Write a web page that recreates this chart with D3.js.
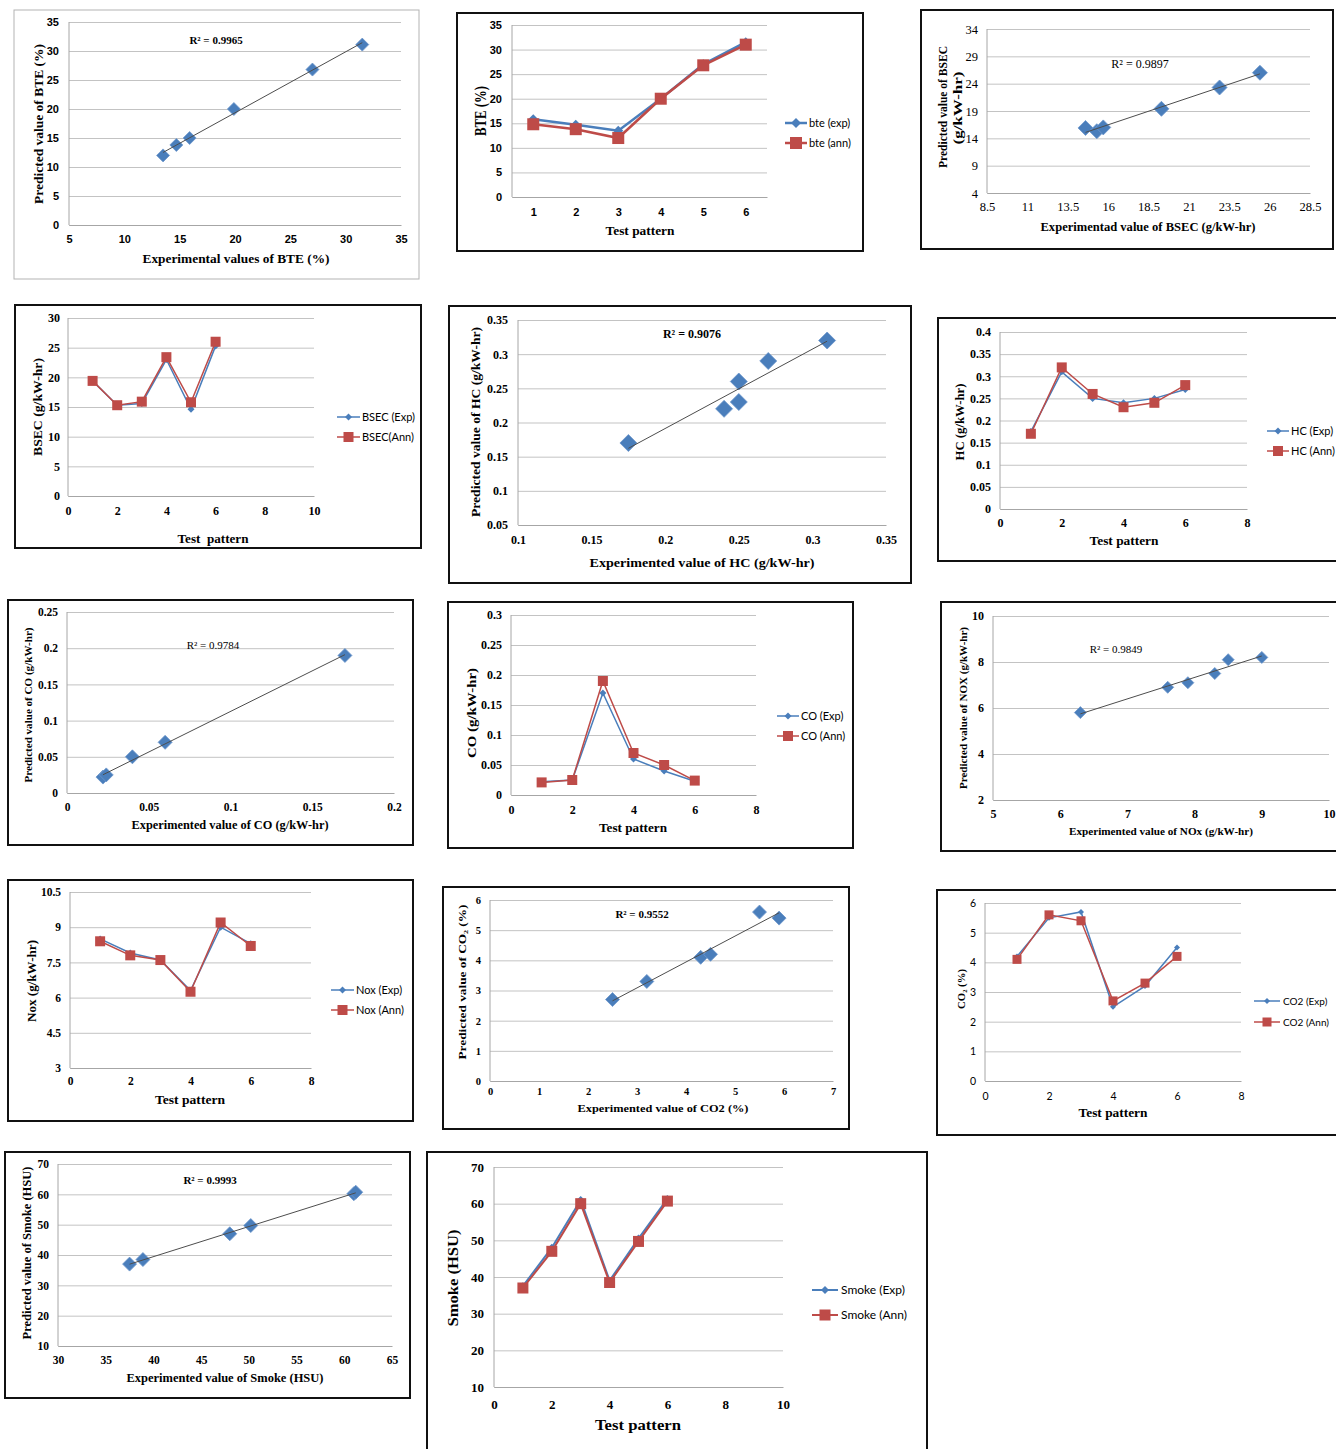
<!DOCTYPE html>
<html>
<head>
<meta charset="utf-8">
<script src="https://cdn.jsdelivr.net/npm/d3@7"></script>
<style>
  body { margin: 0; background: #fff; }
  svg { display: block; }
</style>
</head>
<body>
<svg id="fig" width="1336" height="1449"></svg>
<script>
// ---- data ----
const pattern = [1, 2, 3, 4, 5, 6];

// BTE (%)
const bteScatterX = [13.5, 14.7, 15.9, 19.9, 27, 31.5];
const bteScatterY = [12, 13.8, 15, 20, 26.8, 31.1];
const bteExp = [15.8, 14.7, 13.5, 20, 27, 31.5];
const bteAnn = [14.8, 13.8, 12, 20, 26.8, 31];

// BSEC (g/kW-hr)
const bsecScatterX = [14.6, 15.3, 15.7, 19.3, 22.9, 25.4];
const bsecScatterY = [15.9, 15.3, 16.0, 19.4, 23.3, 26];
const bsecExp = [19.4, 15.3, 15.6, 23, 14.6, 25.3];
const bsecAnn = [19.4, 15.3, 15.9, 23.4, 15.8, 26];

// HC (g/kW-hr)
const hcScatterX = [0.175, 0.24, 0.25, 0.25, 0.27, 0.31];
const hcScatterY = [0.17, 0.22, 0.26, 0.23, 0.29, 0.32];
const hcExp = [0.175, 0.31, 0.25, 0.24, 0.25, 0.27];
const hcAnn = [0.17, 0.32, 0.26, 0.23, 0.24, 0.28];

// CO (g/kW-hr)
const coScatterX = [0.022, 0.024, 0.04, 0.06, 0.17];
const coScatterY = [0.022, 0.025, 0.05, 0.07, 0.19];
const coExp = [0.022, 0.025, 0.17, 0.06, 0.04, 0.023];
const coAnn = [0.021, 0.025, 0.19, 0.07, 0.05, 0.024];

// NOx (g/kW-hr)
const noxScatterX = [6.3, 7.6, 7.9, 8.3, 8.5, 9];
const noxScatterY = [5.8, 6.9, 7.1, 7.5, 8.1, 8.2];
const noxExp = [8.5, 7.9, 7.6, 6.3, 9.0, 8.3];
const noxAnn = [8.4, 7.8, 7.6, 6.25, 9.2, 8.2];

// CO2 (%)
const co2ScatterX = [2.5, 3.2, 4.3, 4.5, 5.5, 5.9];
const co2ScatterY = [2.7, 3.3, 4.1, 4.2, 5.6, 5.4];
const co2Exp = [4.2, 5.5, 5.7, 2.5, 3.2, 4.5];
const co2Ann = [4.1, 5.6, 5.4, 2.7, 3.3, 4.2];

// Smoke (HSU)
const smokeScatterX = [37.5, 38.9, 48, 50.2, 61, 61.2];
const smokeScatterY = [37, 38.5, 47, 49.7, 60.2, 60.7];
const smokeExp = [37.5, 48, 61, 39, 50.5, 61.3];
const smokeAnn = [37, 47, 60, 38.5, 49.7, 60.7];

// tick values
const ticksBte = [0, 5, 10, 15, 20, 25, 30, 35];
const ticksBteX = [5, 10, 15, 20, 25, 30, 35];
const ticksBsecX = [8.5, 11, 13.5, 16, 18.5, 21, 23.5, 26, 28.5];
const ticksBsecY = [4, 9, 14, 19, 24, 29, 34];
const ticksBsecLine = [0, 5, 10, 15, 20, 25, 30];
const ticksPattern10 = [0, 2, 4, 6, 8, 10];
const ticksPattern8 = [0, 2, 4, 6, 8];
const ticksHcX = [0.1, 0.15, 0.2, 0.25, 0.3, 0.35];
const ticksHcY = [0.05, 0.1, 0.15, 0.2, 0.25, 0.3, 0.35];
const ticksHcLine = [0, 0.05, 0.1, 0.15, 0.2, 0.25, 0.3, 0.35, 0.4];
const ticksCoX = [0, 0.05, 0.1, 0.15, 0.2];
const ticksCoY = [0, 0.05, 0.1, 0.15, 0.2, 0.25];
const ticksCoLine = [0, 0.05, 0.1, 0.15, 0.2, 0.25, 0.3];
const ticksNoxX = [5, 6, 7, 8, 9, 10];
const ticksNoxY = [2, 4, 6, 8, 10];
const ticksNoxLine = [3, 4.5, 6, 7.5, 9, 10.5];
const ticksCo2X = [0, 1, 2, 3, 4, 5, 6, 7];
const ticksCo2Y = [0, 1, 2, 3, 4, 5, 6];
const ticksSmokeX = [30, 35, 40, 45, 50, 55, 60, 65];
const ticksSmokeY = [10, 20, 30, 40, 50, 60, 70];

// ---- styles ----
const serif = '"Liberation Serif", "DejaVu Serif", serif';
const sans = '"Liberation Sans", Arial, sans-serif';
const calibri = 'Lato, "Open Sans", sans-serif';
const BLUE = '#4a7ebb';
const RED = '#be4b48';

const svg = d3.select('#fig');
const fmt = (d) => String(+d.toFixed(3));

const diamond = (s) => `M0,${-s}L${s},0L0,${s}L${-s},0Z`;

function drawFrame(c) {
  svg.append('rect')
    .attr('x', c.frame[0]).attr('y', c.frame[1])
    .attr('width', c.frame[2]).attr('height', c.frame[3])
    .attr('fill', 'none')
    .attr('stroke', c.frameColor || '#111')
    .attr('stroke-width', c.frameWidth || 2);
}

function drawAxes(g, c, x, y) {
  const [x0, x1, y0, y1] = c.plot;
  const ya = g.append('g')
    .attr('transform', `translate(${x0},0)`)
    .call(d3.axisLeft(y).tickValues(c.yTicks).tickSize(-(x1 - x0)).tickPadding(c.yPad || 9).tickFormat(fmt));
  ya.select('.domain').remove();
  ya.selectAll('line').attr('stroke', '#c3c3c3');
  ya.selectAll('text').style('font', c.tickFont);

  g.append('line')
    .attr('x1', x0).attr('x2', x0).attr('y1', y0).attr('y2', y1)
    .attr('stroke', '#a6a6a6');

  const xa = g.append('g')
    .attr('transform', `translate(0,${y1})`)
    .call(d3.axisBottom(x).tickValues(c.xTicks).tickSize(0).tickSizeOuter(0).tickFormat(fmt));
  xa.select('.domain').attr('stroke', '#a6a6a6');
  xa.selectAll('text').attr('y', c.xPad || 14).attr('dy', '0.35em').style('font', c.tickFont);
}

function drawTexts(g, texts) {
  texts.forEach((t) => {
    const tg = g.append('g')
      .attr('transform', `translate(${t.x},${t.y})` + (t.rot ? ' rotate(-90)' : ''));
    const el = tg.append('text')
      .attr('text-anchor', 'middle')
      .attr('dy', '0.35em')
      .style('font', t.font)
      .style('white-space', 'pre')
      .text(t.t);
    if (t.w) el.attr('textLength', t.w).attr('lengthAdjust', 'spacingAndGlyphs');
  });
}

function scatterPanel(c) {
  drawFrame(c);
  const g = svg.append('g');
  const [x0, x1, y0, y1] = c.plot;
  const x = d3.scaleLinear().domain(c.xDomain).range([x0, x1]);
  const y = d3.scaleLinear().domain(c.yDomain).range([y1, y0]);
  drawAxes(g, c, x, y);

  const pts = c.xs.map((v, i) => [v, c.ys[i]]);
  g.selectAll('.pt').data(pts).enter().append('path')
    .attr('d', diamond(c.marker))
    .attr('transform', (d) => `translate(${x(d[0])},${y(d[1])})`)
    .attr('fill', BLUE)
    .attr('stroke', '#6d97cc')
    .attr('stroke-width', 0.8);

  // linear trend line (least squares)
  const mx = d3.mean(c.xs), my = d3.mean(c.ys);
  const b = d3.sum(c.xs, (v, i) => (v - mx) * (c.ys[i] - my)) / d3.sum(c.xs, (v) => (v - mx) ** 2);
  const a = my - b * mx;
  const ext = d3.extent(c.xs);
  g.append('line')
    .attr('x1', x(ext[0])).attr('y1', y(a + b * ext[0]))
    .attr('x2', x(ext[1])).attr('y2', y(a + b * ext[1]))
    .attr('stroke', '#4d4d4d').attr('stroke-width', 1);

  drawTexts(g, c.texts);
}

function linePanel(c) {
  drawFrame(c);
  const g = svg.append('g');
  const [x0, x1, y0, y1] = c.plot;
  const x = c.point
    ? d3.scalePoint().domain(pattern).range([x0, x1]).padding(0.5)
    : d3.scaleLinear().domain(c.xDomain).range([x0, x1]);
  const y = d3.scaleLinear().domain(c.yDomain).range([y1, y0]);
  drawAxes(g, c, x, y);

  const line = d3.line().x((d, i) => x(pattern[i])).y((d) => y(d));
  const sq = c.square;

  g.append('path').datum(c.exp).attr('d', line)
    .attr('fill', 'none').attr('stroke', BLUE).attr('stroke-width', c.lw);
  g.selectAll('.de').data(c.exp).enter().append('path')
    .attr('d', diamond(c.dia))
    .attr('transform', (d, i) => `translate(${x(pattern[i])},${y(d)})`)
    .attr('fill', BLUE);

  g.append('path').datum(c.ann).attr('d', line)
    .attr('fill', 'none').attr('stroke', RED).attr('stroke-width', c.lw);
  g.selectAll('.sa').data(c.ann).enter().append('rect')
    .attr('x', (d, i) => x(pattern[i]) - sq).attr('y', (d) => y(d) - sq)
    .attr('width', sq * 2).attr('height', sq * 2)
    .attr('fill', RED);

  // legend
  const L = c.legend;
  [[BLUE, 'd'], [RED, 's']].forEach((s, i) => {
    const ly = L.ys[i];
    const mid = (L.x[0] + L.x[1]) / 2;
    g.append('line')
      .attr('x1', L.x[0]).attr('x2', L.x[1]).attr('y1', ly).attr('y2', ly)
      .attr('stroke', s[0]).attr('stroke-width', c.lw);
    if (s[1] === 'd') {
      g.append('path').attr('d', diamond(c.dia)).attr('transform', `translate(${mid},${ly})`).attr('fill', s[0]);
    } else {
      g.append('rect').attr('x', mid - sq).attr('y', ly - sq).attr('width', sq * 2).attr('height', sq * 2).attr('fill', s[0]);
    }
    g.append('text')
      .attr('x', L.tx).attr('y', ly).attr('dy', '0.35em')
      .style('font', L.font)
      .text(L.labels[i]);
  });

  drawTexts(g, c.texts);
}

// ---- panels ----
scatterPanel({
  frame: [14, 10, 405, 269], frameColor: '#b3b3b3', frameWidth: 1,
  plot: [69, 401, 22, 225],
  xDomain: [5, 35], xTicks: ticksBteX, yDomain: [0, 35], yTicks: ticksBte,
  tickFont: `bold 11px ${sans}`, xPad: 14, yPad: 10,
  xs: bteScatterX, ys: bteScatterY, marker: 6.5,
  texts: [
    { t: 'Experimental values of BTE (%)', x: 236, y: 258, font: `bold 13px ${serif}`, w: 187 },
    { t: 'Predicted value of BTE (%)', x: 38, y: 124, font: `bold 13px ${serif}`, w: 160, rot: true },
    { t: 'R² = 0.9965', x: 216, y: 40, font: `bold 11px ${serif}` },
  ],
});

linePanel({
  frame: [457, 13, 406, 238],
  plot: [512, 767, 25, 197], point: true,
  xTicks: pattern, yDomain: [0, 35], yTicks: ticksBte,
  tickFont: `bold 11px ${sans}`, xPad: 15, yPad: 10,
  exp: bteExp, ann: bteAnn, lw: 2.5, dia: 5, square: 6,
  legend: { x: [785, 807], tx: 809, ys: [123, 143], font: `11px ${calibri}`, labels: ['bte (exp)', 'bte (ann)'] },
  texts: [
    { t: 'Test pattern', x: 640, y: 230, font: `bold 13px ${serif}`, w: 69 },
    { t: 'BTE (%)', x: 480, y: 111, font: `bold 16px ${serif}`, w: 50, rot: true },
  ],
});

scatterPanel({
  frame: [921, 10, 412, 239],
  plot: [987, 1310, 29, 193],
  xDomain: [8.5, 28.5], xTicks: ticksBsecX, yDomain: [4, 34], yTicks: ticksBsecY,
  tickFont: `12.5px ${serif}`, xPad: 14, yPad: 9,
  xs: bsecScatterX, ys: bsecScatterY, marker: 7.5,
  texts: [
    { t: 'Experimentad value of BSEC (g/kW-hr)', x: 1148, y: 227, font: `bold 12px ${serif}`, w: 215 },
    { t: 'Predicted value of BSEC', x: 943, y: 107, font: `bold 12px ${serif}`, w: 122, rot: true },
    { t: '(g/kW-hr)', x: 958, y: 108, font: `bold 12px ${serif}`, w: 73, rot: true },
    { t: 'R² = 0.9897', x: 1140, y: 64, font: `12px ${serif}` },
  ],
});

linePanel({
  frame: [15, 305, 406, 243],
  plot: [68, 314, 318, 496],
  xDomain: [0, 10], xTicks: ticksPattern10, yDomain: [0, 30], yTicks: ticksBsecLine,
  tickFont: `bold 12px ${serif}`, xPad: 15, yPad: 8,
  exp: bsecExp, ann: bsecAnn, lw: 1.5, dia: 3.5, square: 5,
  legend: { x: [337, 360], tx: 362, ys: [417, 437], font: `11px ${calibri}`, labels: ['BSEC (Exp)', 'BSEC(Ann)'] },
  texts: [
    { t: 'Test  pattern', x: 213, y: 538, font: `bold 13px ${serif}`, w: 71 },
    { t: 'BSEC (g/kW-hr)', x: 38, y: 407, font: `bold 12px ${serif}`, w: 98, rot: true },
  ],
});

scatterPanel({
  frame: [449, 306, 462, 277],
  plot: [518, 886, 320, 525],
  xDomain: [0.1, 0.35], xTicks: ticksHcX, yDomain: [0.05, 0.35], yTicks: ticksHcY,
  tickFont: `bold 12px ${serif}`, xPad: 15, yPad: 10,
  xs: hcScatterX, ys: hcScatterY, marker: 8.5,
  texts: [
    { t: 'Experimented value of HC (g/kW-hr)', x: 702, y: 562, font: `bold 13px ${serif}`, w: 225 },
    { t: 'Predicted value of HC (g/kW-hr)', x: 475, y: 422, font: `bold 13px ${serif}`, w: 190, rot: true },
    { t: 'R² = 0.9076', x: 692, y: 334, font: `bold 12px ${serif}` },
  ],
});

linePanel({
  frame: [938, 318, 420, 243],
  plot: [1000, 1247, 332, 509],
  xDomain: [0, 8], xTicks: ticksPattern8, yDomain: [0, 0.4], yTicks: ticksHcLine,
  tickFont: `bold 12px ${serif}`, xPad: 14, yPad: 9,
  exp: hcExp, ann: hcAnn, lw: 1.5, dia: 3.5, square: 5,
  legend: { x: [1267, 1289], tx: 1291, ys: [431, 451], font: `11px ${calibri}`, labels: ['HC (Exp)', 'HC (Ann)'] },
  texts: [
    { t: 'Test pattern', x: 1124, y: 540, font: `bold 13px ${serif}`, w: 69 },
    { t: 'HC (g/kW-hr)', x: 960, y: 422, font: `bold 12px ${serif}`, w: 77, rot: true },
  ],
});

scatterPanel({
  frame: [8, 600, 405, 245],
  plot: [67, 394, 612, 793],
  xDomain: [0, 0.2], xTicks: ticksCoX, yDomain: [0, 0.25], yTicks: ticksCoY,
  tickFont: `bold 11.5px ${serif}`, xPad: 14, yPad: 9,
  xs: coScatterX, ys: coScatterY, marker: 7,
  texts: [
    { t: 'Experimented value of CO (g/kW-hr)', x: 230, y: 825, font: `bold 12px ${serif}`, w: 197 },
    { t: 'Predicted value of CO (g/kW-hr)', x: 28, y: 705, font: `bold 11px ${serif}`, w: 155, rot: true },
    { t: 'R² = 0.9784', x: 213, y: 645, font: `11px ${serif}` },
  ],
});

linePanel({
  frame: [448, 602, 405, 246],
  plot: [511, 756, 615, 795],
  xDomain: [0, 8], xTicks: ticksPattern8, yDomain: [0, 0.3], yTicks: ticksCoLine,
  tickFont: `bold 12px ${serif}`, xPad: 15, yPad: 9,
  exp: coExp, ann: coAnn, lw: 1.5, dia: 3.5, square: 5,
  legend: { x: [777, 799], tx: 801, ys: [716, 736], font: `11px ${calibri}`, labels: ['CO (Exp)', 'CO (Ann)'] },
  texts: [
    { t: 'Test pattern', x: 633, y: 827, font: `bold 13px ${serif}`, w: 68 },
    { t: 'CO (g/kW-hr)', x: 471, y: 713, font: `bold 13px ${serif}`, w: 90, rot: true },
  ],
});

scatterPanel({
  frame: [941, 602, 420, 249],
  plot: [993, 1329, 616, 800],
  xDomain: [5, 10], xTicks: ticksNoxX, yDomain: [2, 10], yTicks: ticksNoxY,
  tickFont: `bold 12px ${serif}`, xPad: 14, yPad: 9,
  xs: noxScatterX, ys: noxScatterY, marker: 6,
  texts: [
    { t: 'Experimented value of NOx (g/kW-hr)', x: 1161, y: 831, font: `bold 11px ${serif}`, w: 184 },
    { t: 'Predicted value of NOX (g/kW-hr)', x: 963, y: 708, font: `bold 11px ${serif}`, w: 162, rot: true },
    { t: 'R² = 0.9849', x: 1116, y: 649, font: `11px ${serif}` },
  ],
});

linePanel({
  frame: [8, 880, 405, 241],
  plot: [70, 311, 892, 1068],
  xDomain: [0, 8], xTicks: ticksPattern8, yDomain: [3, 10.5], yTicks: ticksNoxLine,
  tickFont: `bold 11.5px ${serif}`, xPad: 13, yPad: 9,
  exp: noxExp, ann: noxAnn, lw: 1.5, dia: 3.5, square: 5,
  legend: { x: [331, 354], tx: 356, ys: [990, 1010], font: `11px ${calibri}`, labels: ['Nox (Exp)', 'Nox (Ann)'] },
  texts: [
    { t: 'Test pattern', x: 190, y: 1099, font: `bold 13px ${serif}`, w: 70 },
    { t: 'Nox (g/kW-hr)', x: 31, y: 981, font: `bold 13px ${serif}`, w: 82, rot: true },
  ],
});

scatterPanel({
  frame: [443, 887, 406, 242],
  plot: [490, 833, 900, 1081],
  xDomain: [0, 7], xTicks: ticksCo2X, yDomain: [0, 6], yTicks: ticksCo2Y,
  tickFont: `bold 10.5px ${serif}`, xPad: 10, yPad: 9,
  xs: co2ScatterX, ys: co2ScatterY, marker: 7,
  texts: [
    { t: 'Experimented value of CO2 (%)', x: 663, y: 1108, font: `bold 11px ${serif}`, w: 171 },
    { t: 'Predicted value of CO₂ (%)', x: 462, y: 982, font: `bold 11px ${serif}`, w: 155, rot: true },
    { t: 'R² = 0.9552', x: 642, y: 914, font: `bold 11px ${serif}` },
  ],
});

linePanel({
  frame: [937, 890, 420, 245],
  plot: [985, 1241, 903, 1081],
  xDomain: [0, 8], xTicks: ticksPattern8, yDomain: [0, 6], yTicks: ticksCo2Y,
  tickFont: `10.5px ${calibri}`, xPad: 15, yPad: 9,
  exp: co2Exp, ann: co2Ann, lw: 1.5, dia: 3, square: 4.5,
  legend: { x: [1254, 1280], tx: 1283, ys: [1001, 1022], font: `10px ${calibri}`, labels: ['CO2 (Exp)', 'CO2 (Ann)'] },
  texts: [
    { t: 'Test pattern', x: 1113, y: 1113, font: `bold 12px ${serif}`, w: 69 },
    { t: 'CO₂ (%)', x: 961, y: 989, font: `bold 11px ${serif}`, w: 40, rot: true },
  ],
});

scatterPanel({
  frame: [5, 1152, 405, 246],
  plot: [58, 392, 1164, 1346],
  xDomain: [30, 65], xTicks: ticksSmokeX, yDomain: [10, 70], yTicks: ticksSmokeY,
  tickFont: `bold 11.5px ${serif}`, xPad: 14, yPad: 9,
  xs: smokeScatterX, ys: smokeScatterY, marker: 7,
  texts: [
    { t: 'Experimented value of Smoke (HSU)', x: 225, y: 1378, font: `bold 12px ${serif}`, w: 197 },
    { t: 'Predicted value of Smoke (HSU)', x: 27, y: 1253, font: `bold 12px ${serif}`, w: 173, rot: true },
    { t: 'R² = 0.9993', x: 210, y: 1180, font: `bold 11px ${serif}` },
  ],
});

linePanel({
  frame: [427, 1152, 500, 310],
  plot: [494, 783, 1167, 1387],
  xDomain: [0, 10], xTicks: ticksPattern10, yDomain: [10, 70], yTicks: ticksSmokeY,
  tickFont: `bold 13px ${serif}`, xPad: 17, yPad: 10,
  exp: smokeExp, ann: smokeAnn, lw: 2, dia: 4, square: 5.5,
  legend: { x: [812, 838], tx: 841, ys: [1290, 1315], font: `12px ${calibri}`, labels: ['Smoke (Exp)', 'Smoke (Ann)'] },
  texts: [
    { t: 'Test pattern', x: 638, y: 1425, font: `bold 15px ${serif}`, w: 86 },
    { t: 'Smoke (HSU)', x: 453, y: 1278, font: `bold 15px ${serif}`, w: 97, rot: true },
  ],
});
</script>
</body>
</html>
